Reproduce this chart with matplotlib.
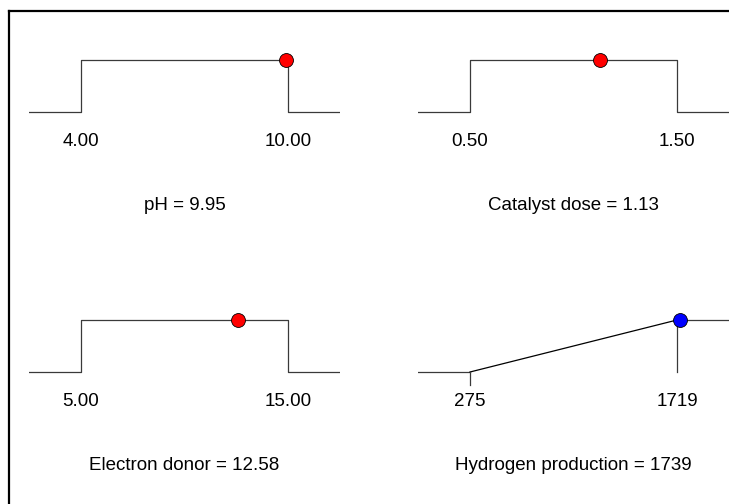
import matplotlib
matplotlib.use('Agg')
import matplotlib.pyplot as plt
from matplotlib.lines import Line2D

plt.rcParams['font.family'] = ['Liberation Sans', 'DejaVu Sans']

# factors: name, low, high, optimum
factor_names = ['pH', 'Catalyst dose', 'Electron donor']
factor_lows = [4.00, 0.50, 5.00]
factor_highs = [10.00, 1.50, 15.00]
factor_values = [9.95, 1.13, 12.58]

# response
response_name = 'Hydrogen production'
response_low = 275
response_high = 1719
response_value = 1739

W, H = 729, 504
fig = plt.figure(figsize=(W / 100, H / 100), dpi=100)

LINE_C = '#3a3a3a'
FS = 13.5


def make_axes(px_left, px_top):
    # panel spans 311 px wide, 220 px tall
    ax = fig.add_axes([px_left / W, 1 - (px_top + 220) / H, 311 / W, 220 / H])
    ax.set_axis_off()
    ax.set_ylim(-(220 - 92) / 52, 92 / 52)
    return ax


def x_limits(lo, hi):
    pad = (hi - lo) * 52 / 207
    return lo - pad, hi + pad


def factor_panel(ax, name, lo, hi, val):
    x0, x1 = x_limits(lo, hi)
    ax.set_xlim(x0, x1)
    ax.plot([x0, lo, lo, hi, hi, x1], [0, 0, 1, 1, 0, 0], color=LINE_C, lw=0.9)
    ax.plot([val], [1], 'o', color='red', mec='black', mew=0.6, ms=10, zorder=5)
    for v in (lo, hi):
        ax.text(v, -30 / 52, f'{v:.2f}', ha='center', va='center', fontsize=FS)
    ax.text((x0 + x1) / 2, -94 / 52, f'{name} = {val:.2f}', ha='center', va='center',
            fontsize=FS)


def response_panel(ax, name, lo, hi, val):
    x0, x1 = x_limits(lo, hi)
    ax.set_xlim(x0, x1)
    ax.plot([x0, lo], [0, 0], color=LINE_C, lw=0.9)
    ax.plot([lo, hi], [0, 1], color='black', lw=0.9)
    ax.plot([hi, x1], [1, 1], color=LINE_C, lw=0.9)
    ax.plot([hi, hi], [0, 1], color=LINE_C, lw=0.9)
    ax.plot([lo, lo], [0, -0.25], color=LINE_C, lw=0.9)
    ax.plot([val], [1], 'o', color='blue', mec='black', mew=0.6, ms=10, zorder=5)
    for v in (lo, hi):
        ax.text(v, -30 / 52, f'{v:d}', ha='center', va='center', fontsize=FS)
    ax.text((x0 + x1) / 2, -94 / 52, f'{name} = {val:d}', ha='center', va='center',
            fontsize=FS)


positions = [(29, 20), (418, 20), (29, 280)]
for (px, py), name, lo, hi, val in zip(positions, factor_names, factor_lows,
                                       factor_highs, factor_values):
    factor_panel(make_axes(px, py), name, lo, hi, val)

response_panel(make_axes(418, 280), response_name, response_low, response_high,
               response_value)

# outer frame (only top and left visible)
fig.add_artist(Line2D([8.5 / W, 8.5 / W], [0, 1 - 11 / H], color='black', lw=1.6,
                      transform=fig.transFigure))
fig.add_artist(Line2D([8.5 / W, 1], [1 - 11 / H, 1 - 11 / H], color='black', lw=1.6,
                      transform=fig.transFigure))

fig.savefig('out.png', dpi=100)
